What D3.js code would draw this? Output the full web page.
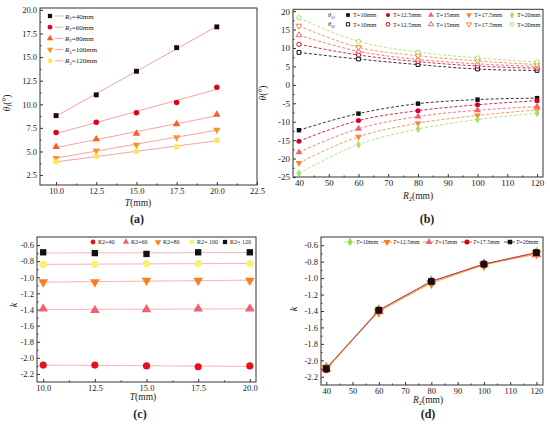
<!DOCTYPE html>
<html><head><meta charset="utf-8">
<script src="https://cdn.jsdelivr.net/npm/d3@7"></script>
<style>
body{margin:0;background:#fff}
text{font-family:"Liberation Serif","Times New Roman",serif;fill:#222}
</style></head><body>
<svg id="fig" width="550" height="427"></svg>
<script>
// ---- data ----
var tList = [10, 12.5, 15, 17.5, 20];
var r2List = [40, 60, 80, 100, 120];

// theta_f (deg), rows = R2 (40..120), cols = T (10..20)
var thetaUp = [
  [8.8, 11.0, 13.5, 16.0, 18.2],
  [7.0, 8.1, 9.1, 10.2, 11.8],
  [5.5, 6.3, 6.9, 7.9, 8.9],
  [4.3, 5.1, 5.7, 6.5, 7.3],
  [3.9, 4.5, 5.0, 5.5, 6.2]
];
// negative branch (deg), rows = T (10..20), cols = R2 (40..120)
var thetaLow = [
  [-12.3, -7.8, -5.1, -4.0, -3.6],
  [-15.3, -9.7, -7.0, -5.4, -4.3],
  [-18.3, -11.9, -8.6, -6.9, -5.9],
  [-21.2, -14.1, -10.4, -8.3, -6.8],
  [-24.0, -16.2, -12.0, -9.4, -7.7]
];
// k, rows = R2 (40..120), cols = T (10..20)
var kVals = [
  [-2.09, -2.09, -2.10, -2.11, -2.10],
  [-1.39, -1.41, -1.40, -1.39, -1.39],
  [-1.06, -1.06, -1.04, -1.04, -1.04],
  [-0.84, -0.84, -0.83, -0.83, -0.83],
  [-0.69, -0.70, -0.71, -0.69, -0.69]
];

var aTicksX = [10, 12.5, 15, 17.5, 20, 22.5];
var aTicksY = [2.5, 5, 7.5, 10, 12.5, 15, 17.5, 20];
var bTicksX = [40, 50, 60, 70, 80, 90, 100, 110, 120];
var bTicksY = [-25, -20, -15, -10, -5, 0, 5, 10, 15, 20];
var cTicksX = [10, 12.5, 15, 17.5, 20];
var kTicks = [-2.2, -2.0, -1.8, -1.6, -1.4, -1.2, -1.0, -0.8, -0.6];

var svg = d3.select("#fig");

function mids(arr){
  var m = [];
  for (var i = 0; i < arr.length - 1; i++) m.push((arr[i] + arr[i+1]) / 2);
  return m;
}

function panel(o){
  var g = svg.append("g");
  var x = d3.scaleLinear().domain(o.xd).range([o.l, o.r]);
  var y = d3.scaleLinear().domain(o.yd).range([o.b, o.t]);

  g.append("rect").attr("x", o.l).attr("y", o.t)
    .attr("width", o.r - o.l).attr("height", o.b - o.t)
    .attr("fill", "none").attr("stroke", "#333").attr("stroke-width", 1);

  g.append("g").attr("transform", "translate(0," + o.b + ")")
    .call(d3.axisBottom(x).tickValues(o.xt).tickSize(-3).tickPadding(3)
      .tickFormat(d3.format(o.xf)));
  g.append("g").attr("transform", "translate(0," + o.b + ")")
    .call(d3.axisBottom(x).tickValues(mids(o.xt)).tickSize(-1.5).tickFormat(""));
  g.append("g").attr("transform", "translate(" + o.l + ",0)")
    .call(d3.axisLeft(y).tickValues(o.yt).tickSize(-3).tickPadding(3)
      .tickFormat(function(d){ return d3.format(o.yf)(d).replace("\u2212", "-"); }));
  g.append("g").attr("transform", "translate(" + o.l + ",0)")
    .call(d3.axisLeft(y).tickValues(mids(o.yt)).tickSize(-1.5).tickFormat(""));

  g.selectAll(".domain").remove();
  g.selectAll(".tick line").attr("stroke", "#333");
  g.selectAll(".tick text").attr("font-size", o.fs || 8.5)
    .attr("font-family", "Liberation Serif").attr("fill", "#333");
  return {g: g, x: x, y: y};
}

function sym(g, shape, cx, cy, size, fill, stroke){
  var type = d3.symbolSquare, rot = 0;
  if (shape == "circle") type = d3.symbolCircle;
  if (shape == "up") type = d3.symbolTriangle;
  if (shape == "down") { type = d3.symbolTriangle; rot = 180; }
  if (shape == "diamond") type = d3.symbolDiamond;
  g.append("path").attr("d", d3.symbol().type(type).size(size)())
    .attr("transform", "translate(" + cx + "," + cy + ") rotate(" + rot + ")")
    .attr("fill", fill).attr("stroke", stroke || "none").attr("stroke-width", 1);
}

function linfit(xs, ys){
  var mx = d3.mean(xs), my = d3.mean(ys), sxy = 0, sxx = 0;
  xs.forEach(function(v, i){ sxy += (v - mx) * (ys[i] - my); sxx += (v - mx) * (v - mx); });
  var b = sxy / sxx;
  return function(v){ return my + b * (v - mx); };
}

function label(x, y, parts, size, rotate){
  var t = svg.append("text").attr("font-size", size).attr("text-anchor", "middle")
    .attr("transform", "translate(" + x + "," + y + ")" + (rotate ? " rotate(-90)" : ""));
  parts.forEach(function(p){
    var s = t.append("tspan").text(p[0]);
    if (p[1] == "i") s.attr("font-style", "italic");
    if (p[1] == "sub") s.attr("font-size", size * 0.7).attr("dy", size * 0.25);
    if (p[1] == "up") s.attr("dy", -size * 0.25);
  });
  return t;
}

// ---------------- (a) ----------------
var aShapes = ["square", "circle", "up", "down", "circle"];
var aCols = ["#1a0a0a", "#e3001b", "#ff5a1f", "#ff9326", "#ffe55c"];
var pa = panel({l: 40, r: 257, t: 8, b: 185, xd: [9, 22.5], yd: [1.45, 20.2],
  xt: aTicksX, yt: aTicksY, xf: ".1f", yf: ".1f"});
thetaUp.forEach(function(row, i){
  var f = linfit(tList, row);
  pa.g.append("line").attr("x1", pa.x(10)).attr("x2", pa.x(20))
    .attr("y1", pa.y(f(10))).attr("y2", pa.y(f(20)))
    .attr("stroke", "#f5a3a3").attr("stroke-width", 1);
});
thetaUp.forEach(function(row, i){
  row.forEach(function(v, j){
    sym(pa.g, aShapes[i], pa.x(tList[j]), pa.y(v), 24, aCols[i]);
  });
});
r2List.forEach(function(r, i){
  var ly = 16 + i * 11.2;
  sym(pa.g, aShapes[i], 50, ly, 18, aCols[i]);
  pa.g.append("line").attr("x1", 55).attr("x2", 63).attr("y1", ly).attr("y2", ly)
    .attr("stroke", "#f5a3a3");
  var t = pa.g.append("text").attr("x", 65).attr("y", ly + 2.5).attr("font-size", 7);
  t.append("tspan").attr("font-style", "italic").text("R");
  t.append("tspan").attr("font-size", 5).attr("dy", 1.5).text("2");
  t.append("tspan").attr("dy", -1.5).text("=" + r + "mm");
});
label(138, 206, [["T", "i"], ["(mm)"]], 9.5);
label(10, 103, [["\u03b8", "i"], ["f", "sub"], ["(\u00b0)", "up"]], 9.5, true);
label(137, 223, [["(a)"]], 12).attr("font-weight", "bold");

// ---------------- (b) ----------------
var bShapesLow = ["square", "circle", "up", "down", "diamond"];
var bShapesUp = ["square", "circle", "up", "down", "circle"];
var bCols = ["#111111", "#d6002e", "#f2606f", "#ff8430", "#a6e06a"];
var pb = panel({l: 293, r: 543, t: 9.3, b: 177, xd: [38, 122], yd: [-25, 20.5],
  xt: bTicksX, yt: bTicksY, xf: "d", yf: "d", fs: 9});
var curve = d3.line().curve(d3.curveMonotoneX)
  .x(function(d){ return pb.x(d[0]); }).y(function(d){ return pb.y(d[1]); });
tList.forEach(function(tv, j){
  var up = r2List.map(function(r, i){ return [r, thetaUp[i][j]]; });
  var low = r2List.map(function(r, i){ return [r, thetaLow[j][i]]; });
  [up, low].forEach(function(s){
    pb.g.append("path").attr("d", curve(s)).attr("fill", "none")
      .attr("stroke", bCols[j]).attr("stroke-opacity", 0.85)
      .attr("stroke-width", 1).attr("stroke-dasharray", "3,2");
  });
});
tList.forEach(function(tv, j){
  r2List.forEach(function(r, i){
    sym(pb.g, bShapesUp[j], pb.x(r), pb.y(thetaUp[i][j]), 14, "#fff", bCols[j]);
    sym(pb.g, bShapesLow[j], pb.x(r), pb.y(thetaLow[j][i]), 20, bCols[j]);
  });
});
var bLegX = [348, 388, 431, 469, 512];
[0, 1].forEach(function(row){
  var ly = 15 + row * 9.3;
  var t = pb.g.append("text").attr("x", 328).attr("y", ly + 2).attr("font-size", 6.5);
  t.append("tspan").attr("font-style", "italic").text("\u03b8");
  t.append("tspan").attr("font-size", 4.5).attr("dy", 1.5).text("f" + (row + 1));
  tList.forEach(function(tv, j){
    if (row == 0) sym(pb.g, bShapesLow[j], bLegX[j], ly, 14, bCols[j]);
    else sym(pb.g, bShapesUp[j], bLegX[j], ly, 11, "#fff", bCols[j]);
    pb.g.append("text").attr("x", bLegX[j] + 5).attr("y", ly + 2.2)
      .attr("font-size", 6.3).attr("fill", "#444").text("T=" + tv + "mm");
  });
});
label(418, 199, [["R", "i"], ["2", "sub"], ["(mm)", "up"]], 9.5);
label(266, 93, [["\u03b8", "i"], ["(\u00b0)"]], 9.5, true);
label(427, 223, [["(b)"]], 12).attr("font-weight", "bold");

// ---------------- (c) ----------------
var cShapes = ["circle", "up", "down", "circle", "square"];
var cCols = ["#e8101c", "#f2606f", "#ff7d1f", "#fff06a", "#111111"];
var pc = panel({l: 37, r: 256, t: 237, b: 382, xd: [9.7, 20.3], yd: [-2.3, -0.5],
  xt: cTicksX, yt: kTicks, xf: ".1f", yf: ".1f"});
kVals.forEach(function(row){
  var f = linfit(tList, row);
  pc.g.append("line").attr("x1", pc.x(9.8)).attr("x2", pc.x(20.2))
    .attr("y1", pc.y(f(9.8))).attr("y2", pc.y(f(20.2)))
    .attr("stroke", "#f5b5b5").attr("stroke-width", 1);
});
kVals.forEach(function(row, i){
  row.forEach(function(v, j){
    sym(pc.g, cShapes[i], pc.x(tList[j]), pc.y(v), 40, cCols[i]);
  });
});
var cLegX = [93, 126, 158, 192, 225];
r2List.forEach(function(r, i){
  sym(pc.g, cShapes[i], cLegX[i], 242, 18, cCols[i]);
  pc.g.append("text").attr("x", cLegX[i] + 5).attr("y", 244.2)
    .attr("font-size", 6).attr("fill", "#555").text("R2" + (r >= 100 ? "= " : "=") + r);
});
label(143, 400, [["T", "i"], ["(mm)"]], 9.5);
label(17, 305, [["k", "i"]], 10, true);
label(140, 418, [["(c)"]], 12).attr("font-weight", "bold");

// ---------------- (d) ----------------
var dShapes = ["diamond", "down", "up", "circle", "square"];
var dCols = ["#8fe03c", "#ff7a1a", "#f2606f", "#d80012", "#111111"];
var pd = panel({l: 321, r: 543, t: 237, b: 385, xd: [38, 122.5], yd: [-2.3, -0.5],
  xt: bTicksX, yt: kTicks, xf: "d", yf: ".1f"});
var kline = d3.line()
  .x(function(d){ return pd.x(d[0]); }).y(function(d){ return pd.y(d[1]); });
// draw black first so the warm lines sit on top, as in the figure
[4, 0, 2, 1, 3].forEach(function(j){
  var s = r2List.map(function(r, i){ return [r, kVals[i][j]]; });
  pd.g.append("path").attr("d", kline(s)).attr("fill", "none")
    .attr("stroke", dCols[j]).attr("stroke-opacity", 0.55).attr("stroke-width", 1);
});
tList.forEach(function(tv, j){
  r2List.forEach(function(r, i){
    sym(pd.g, dShapes[j], pd.x(r), pd.y(kVals[i][j]), 44, dCols[j]);
  });
});
var dLegX = [350, 387, 429, 467, 510];
tList.forEach(function(tv, j){
  pd.g.append("line").attr("x1", dLegX[j] - 6).attr("x2", dLegX[j] + 5)
    .attr("y1", 242).attr("y2", 242).attr("stroke", dCols[j]).attr("stroke-opacity", 0.7);
  sym(pd.g, dShapes[j], dLegX[j], 242, 20, dCols[j]);
  var t = pd.g.append("text").attr("x", dLegX[j] + 6).attr("y", 244.2)
    .attr("font-size", 6).attr("fill", "#444");
  t.append("tspan").attr("font-style", "italic").text("T");
  t.append("tspan").text("=" + tv + "mm");
});
label(428, 403, [["R", "i"], ["2", "sub"], ["(mm)", "up"]], 9.5);
label(297, 309, [["k", "i"]], 10, true);
label(428, 418, [["(d)"]], 12).attr("font-weight", "bold");
</script>
</body></html>
